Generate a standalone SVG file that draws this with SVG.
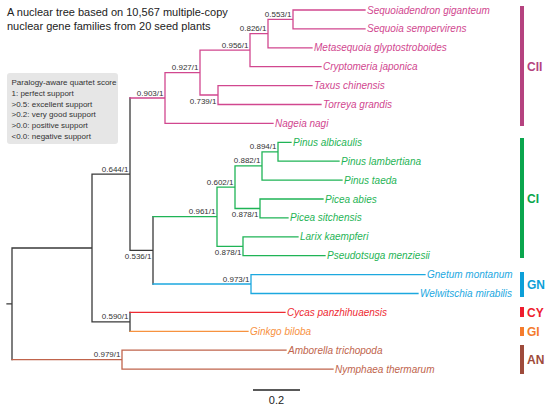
<svg xmlns="http://www.w3.org/2000/svg" width="550" height="409" viewBox="0 0 550 409">
<style>
.br{fill:none;stroke-width:1.3;stroke-linecap:square}
.k{stroke:#3a3a3a}.p{stroke:#d1478f}.g{stroke:#1fb456}.b{stroke:#1ca8df}.r{stroke:#ee2a32}.o{stroke:#f7923f}.n{stroke:#c0644c}
.sp{font-family:"Liberation Sans",Arial,sans-serif;font-style:italic;font-size:10px}
.sv{font-family:"Liberation Sans",Arial,sans-serif;font-size:8px;fill:#333;text-anchor:end}
.lg{font-family:"Liberation Sans",Arial,sans-serif;font-size:8px;fill:#333}
.tt{font-family:"Liberation Sans",Arial,sans-serif;font-size:11px;fill:#222}
.cl{font-family:"Liberation Sans",Arial,sans-serif;font-size:12px;font-weight:bold}
</style>
<rect width="550" height="409" fill="#fff"/>
<g id="title">
<text class="tt" x="7" y="15.5">A nuclear tree based on 10,567 multiple-copy</text>
<text class="tt" x="7" y="29.5">nuclear gene families from 20 seed plants</text>
</g>
<g id="legend">
<rect x="7" y="73" width="111" height="71" rx="3" fill="#e6e6e6"/>
<text class="lg" x="11.5" y="85">Paralogy-aware quartet score</text>
<text class="lg" x="11.5" y="95.8">1: perfect support</text>
<text class="lg" x="11.5" y="106.6">&gt;0.5: excellent support</text>
<text class="lg" x="11.5" y="117.4">&gt;0.2: very good support</text>
<text class="lg" x="11.5" y="128.2">&gt;0.0: positive support</text>
<text class="lg" x="11.5" y="139">&lt;0.0: negative support</text>
</g>
<g id="connectors">
<!-- root -->
<path class="br k" d="M7 303.8H12M12 248V359.7M12 248H92M92 174.2V321.9M92 174.2H130M92 321.9H130M130 98V250.4M130 250.4H153M153 216.7V284M130 312.4V331.3"/>
<path class="br n" d="M12 359.7H122M122 350.2V369.1M122 350.2H286M122 369.1H333"/>
<path class="br r" d="M130 312.4H285"/>
<path class="br o" d="M130 331.3H248"/>
<!-- CII -->
<path class="br p" d="M130 98H165M165 72.6V123.4M165 123.4H273M165 72.6H200M200 50.2V95M200 95H218M218 85.6V104.5M218 85.6H312M218 104.5H321M200 50.2H250M250 33.6V66.7M250 66.7H321M250 33.6H268M268 19.45V47.8M268 47.8H312M268 19.45H293M293 10V28.9M293 10H365M293 28.9H365"/>
<!-- CI -->
<path class="br g" d="M153 216.7H217M217 187.2V246.3M217 246.3H243M243 236.8V255.7M243 236.8H298M243 255.7H325M217 187.2H235M235 165.9V208.5M235 208.5H260M260 199V217.9M260 199H323M260 217.9H288M235 165.9H262M262 151.8V180.1M262 180.1H342M262 151.8H278M278 142.3V161.2M278 142.3H291M278 161.2H339"/>
<!-- GN -->
<path class="br b" d="M153 284H251M251 274.6V293.5M251 274.6H425M251 293.5H418"/>
</g>
<g id="support">
<text class="sv" x="291.5" y="17">0.553/1</text>
<text class="sv" x="266.5" y="31">0.826/1</text>
<text class="sv" x="248.5" y="47.5">0.956/1</text>
<text class="sv" x="198.5" y="70">0.927/1</text>
<text class="sv" x="216.5" y="103.5">0.739/1</text>
<text class="sv" x="163.5" y="95.5">0.903/1</text>
<text class="sv" x="128.5" y="171.5">0.644/1</text>
<text class="sv" x="276.5" y="149">0.894/1</text>
<text class="sv" x="260.5" y="163">0.882/1</text>
<text class="sv" x="233.5" y="184.5">0.602/1</text>
<text class="sv" x="258.5" y="217">0.878/1</text>
<text class="sv" x="215.5" y="214">0.961/1</text>
<text class="sv" x="241.5" y="255">0.878/1</text>
<text class="sv" x="151.5" y="259">0.536/1</text>
<text class="sv" x="249.5" y="281.5">0.973/1</text>
<text class="sv" x="128.5" y="319">0.590/1</text>
<text class="sv" x="120.5" y="357">0.979/1</text>
</g>
<g id="taxa">
<g fill="#d1478f">
<text class="sp" x="367" y="13.5">Sequoiadendron giganteum</text>
<text class="sp" x="367" y="32.4">Sequoia sempervirens</text>
<text class="sp" x="314" y="51.3">Metasequoia glyptostroboides</text>
<text class="sp" x="323" y="70.2">Cryptomeria japonica</text>
<text class="sp" x="314" y="89.1">Taxus chinensis</text>
<text class="sp" x="323" y="108">Torreya grandis</text>
<text class="sp" x="275" y="126.9">Nageia nagi</text>
</g>
<g fill="#1fb456">
<text class="sp" x="293" y="145.8">Pinus albicaulis</text>
<text class="sp" x="341" y="164.7">Pinus lambertiana</text>
<text class="sp" x="344" y="183.6">Pinus taeda</text>
<text class="sp" x="325" y="202.5">Picea abies</text>
<text class="sp" x="290" y="221.4">Picea sitchensis</text>
<text class="sp" x="300" y="240.3">Larix kaempferi</text>
<text class="sp" x="327" y="259.2">Pseudotsuga menziesii</text>
</g>
<g fill="#1ca8df">
<text class="sp" x="427" y="278.1">Gnetum montanum</text>
<text class="sp" x="420" y="297">Welwitschia mirabilis</text>
</g>
<text class="sp" x="287" y="315.9" fill="#ee2a32">Cycas panzhihuaensis</text>
<text class="sp" x="250" y="334.8" fill="#f7923f">Ginkgo biloba</text>
<g fill="#c0644c">
<text class="sp" x="288" y="353.7">Amborella trichopoda</text>
<text class="sp" x="335" y="372.6">Nymphaea thermarum</text>
</g>
</g>
<g id="clade-CII"><rect x="520" y="6" width="4" height="120" fill="#b5427f"/><text class="cl" x="527" y="70.5" fill="#b5427f">CII</text></g>
<g id="clade-CI"><rect x="520" y="138" width="4" height="120" fill="#0aa64d"/><text class="cl" x="527" y="202.5" fill="#0aa64d">CI</text></g>
<g id="clade-GN"><rect x="520" y="272" width="4" height="25" fill="#0d9fd8"/><text class="cl" x="527" y="288.5" fill="#0d9fd8">GN</text></g>
<g id="clade-CY"><rect x="520" y="307" width="4" height="10" fill="#ee1c2e"/><text class="cl" x="527" y="316.5" fill="#ee1c2e">CY</text></g>
<g id="clade-GI"><rect x="520" y="327" width="4" height="9" fill="#f47b2c"/><text class="cl" x="527" y="335.5" fill="#f47b2c">GI</text></g>
<g id="clade-AN"><rect x="520" y="345" width="4" height="29" fill="#9e4b3b"/><text class="cl" x="527" y="364" fill="#9e4b3b">AN</text></g>
<g id="scale">
<path d="M253 390H300" stroke="#222" stroke-width="1.3"/>
<text class="tt" x="276.5" y="404" text-anchor="middle">0.2</text>
</g>
</svg>
